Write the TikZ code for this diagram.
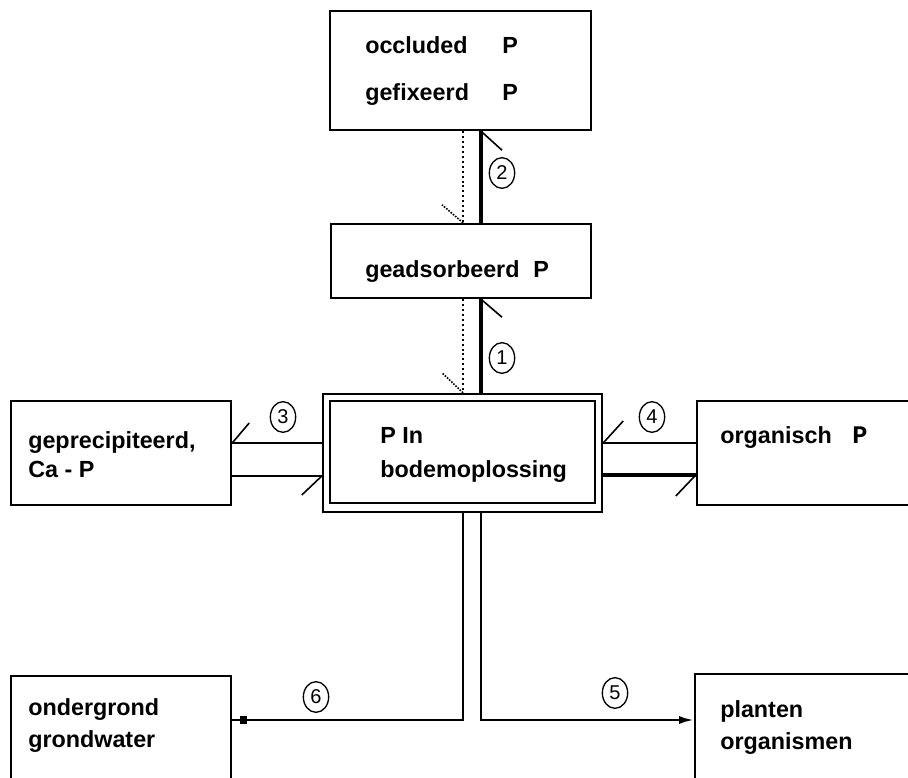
\documentclass[tikz,border=0pt]{standalone}
\usepackage{fontspec}
\setmainfont{Liberation Sans}
\newfontfamily\monofont{Liberation Mono}
\usetikzlibrary{fit,arrows.meta,shapes.geometric}
\begin{document}
\begin{tikzpicture}[x=0.75pt,y=-0.75pt,
  box/.style={draw, line width=1.8pt, inner sep=0pt},
  lbl/.style={anchor=base west, inner sep=0pt, font=\bfseries\fontsize{17.5}{20}\selectfont},
  num/.style={draw, ellipse, line width=1pt, inner sep=0pt, minimum width=19pt, minimum height=23pt, font=\fontsize{15}{17}\selectfont},
  flow/.style={line width=1.8pt},
  heavy/.style={line width=2.6pt},
  dotflow/.style={line width=2pt, dash pattern=on 1.5pt off 2.2pt},
  tick/.style={line width=1.2pt}]
\useasboundingbox (0,0) rectangle (908,778);
\clip (0,0) rectangle (908,778);

% boxes
\node[box, fit={(330,11)(591,130)}] (top) {};
\node[box, fit={(331,224)(591,298)}] (ads) {};
\node[box, fit={(323,394)(602,512)}] (sol) {};
\node[draw, line width=1.5pt, inner sep=0pt, fit={(330,401)(595,503)}] (solin) {};
\node[box, fit={(11,401)(231,505)}] (prec) {};
\node[box, fit={(697,401)(915,505)}] (org) {};
\node[box, fit={(11,676)(231,795)}] (grond) {};
\node[box, fit={(695,674)(915,795)}] (plant) {};

% texts
\node[lbl] (ta) at (365,53) {occluded};
\node[lbl] (tap) at (502,53) {P};
\node[lbl] (tb) at (365,100) {gefixeerd};
\node[lbl] (tbp) at (502,100) {P};
\node[lbl] (tc) at (365,277) {geadsorbeerd};
\node[lbl] (tcp) at (533,277) {P};
\node[lbl] (td) at (380,443) {P In};
\node[lbl] (te) at (380,477) {bodemoplossing};
\node[lbl] (tf) at (28,448) {geprecipiteerd,};
\node[lbl] (tg) at (28,477) {Ca - P};
\node[lbl] (th) at (720,443) {organisch};
\node[lbl, font=\monofont\bfseries\fontsize{19}{21}\selectfont] (thp) at (852,443) {P};
\node[lbl] (ti) at (28,715) {ondergrond};
\node[lbl] (tj) at (28,747) {grondwater};
\node[lbl] (tk) at (720,717) {planten};
\node[lbl] (tl) at (720,749) {organismen};

% helper coordinates
\coordinate (xs) at (481,0);
\coordinate (xd) at (463,0);
\coordinate (yu) at (0,443);
\coordinate (yl) at (0,476);
\coordinate (yr) at (0,475);
\coordinate (yb) at (0,720);

% top <-> adsorbed
\draw[heavy] (top.south -| xs) -- (ads.north -| xs);
\draw[tick] (top.south -| xs) -- ++(21,19);
\draw[dotflow] (top.south -| xd) -- (ads.north -| xd);
\draw[tick, densely dotted] (ads.north -| xd) -- ++(-21,-18);

% adsorbed <-> solution
\draw[heavy] (ads.south -| xs) -- (sol.north -| xs);
\draw[tick] (ads.south -| xs) -- ++(21,18);
\draw[dotflow] (ads.south -| xd) -- (sol.north -| xd);
\draw[tick, densely dotted] (sol.north -| xd) -- ++(-21,-20);

% precipitated <-> solution
\draw[flow] (prec.east |- yu) -- (sol.west |- yu);
\draw[tick] (prec.east |- yu) -- ++(17,-20);
\draw[flow] (prec.east |- yl) -- (sol.west |- yl);
\draw[tick] (sol.west |- yl) -- ++(-20,19);

% solution <-> organic
\draw[flow] (sol.east |- yu) -- (org.west |- yu);
\draw[tick] (sol.east |- yu) -- ++(20,-22);
\draw[heavy] (sol.east |- yr) -- (org.west |- yr);
\draw[tick] (org.west |- yr) -- ++(-20,21);

% bottom flows
\draw[flow] (sol.south -| xd) |- (grond.east |- yb);
\fill (240,716) rectangle (247,724);
\draw[flow, -{Latex[length=11pt,width=6pt]}] (sol.south -| xs) |- (plant.west |- yb);

% numbers
\node[num] (n2) at (502,173) {2};
\node[num] (n1) at (502,358) {1};
\node[num] (n3) at (283,417) {3};
\node[num] (n4) at (652,417) {4};
\node[num] (n6) at (316,697) {6};
\node[num] (n5) at (615,693) {5};
\end{tikzpicture}
\end{document}
